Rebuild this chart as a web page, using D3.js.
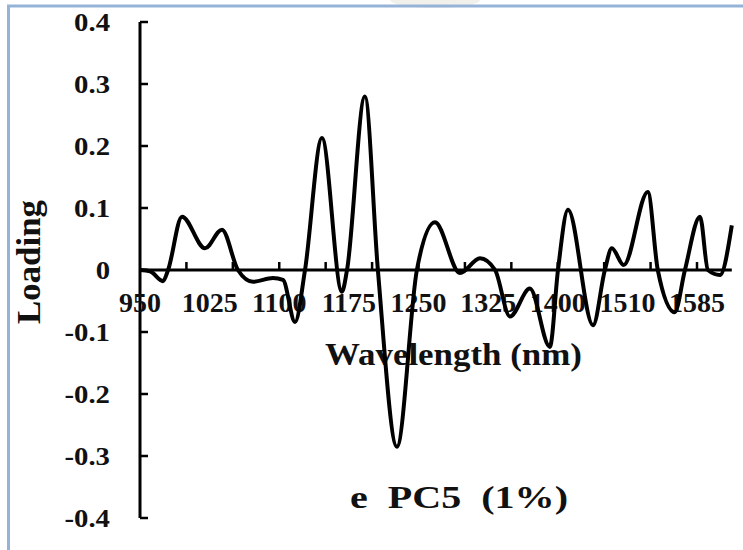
<!DOCTYPE html>
<html>
<head>
<meta charset="utf-8">
<script src="https://cdn.jsdelivr.net/npm/d3@7"></script>
<style>
  body { margin: 0; background: #fff; }
  text { font-family: "Liberation Serif", "Times New Roman", serif; font-weight: bold; fill: #111; }
</style>
</head>
<body>
<div id="chart"></div>
<script>
// Sample position along the category axis (one label every 3 positions)
const samplePos = [
  0, 0.43, 0.99, 1.21, 1.81, 2.80, 3.53, 4.22, 4.87, 5.73, 6.16, 6.68,
  7.11, 7.84, 8.70, 8.92, 9.69, 10.25, 11.07, 11.93, 12.71, 13.79, 14.65,
  15.30, 15.94, 16.80, 17.66, 18.01, 18.44, 19.52, 20.03, 20.33, 20.84,
  21.88, 22.31, 23.04, 23.48, 24.13, 24.47, 24.99, 25.5
];
// PC5 loading
const loading = [
  0, -0.002, -0.018, 0, 0.086, 0.035, 0.065, 0, -0.019, -0.013, -0.016, -0.084,
  0, 0.213, -0.035, 0, 0.28, 0, -0.285, 0, 0.077, -0.005, 0.019,
  0, -0.075, -0.03, -0.124, 0, 0.097, -0.089, 0, 0.035, 0.008,
  0.126, 0, -0.068, 0, 0.086, 0, -0.008, 0.072
];
const xLabels = ["950", "1025", "1100", "1175", "1250", "1325", "1400", "1510", "1585"];
const xLabelPos = [0, 3, 6, 9, 12, 15, 18, 21, 24];
const xTickPos = [2, 4, 6, 8, 10, 12, 14, 16, 18, 20, 22, 24];
const yTicks = [0.4, 0.3, 0.2, 0.1, 0, -0.1, -0.2, -0.3, -0.4];

const width = 743, height = 550;
const svg = d3.select("#chart").append("svg")
  .attr("width", width)
  .attr("height", height);

// page frame
svg.append("ellipse")
  .attr("cx", 435).attr("cy", 0).attr("rx", 45).attr("ry", 8)
  .attr("fill", "#f2f0ea");
svg.append("path")
  .attr("d", "M8.5,550 V6 H743")
  .attr("fill", "none")
  .attr("stroke", "#95b3d7")
  .attr("stroke-width", 3);

const x = d3.scaleLinear().domain([0, 24]).range([140, 697]);
const y = d3.scaleLinear().domain([-0.4, 0.4]).range([518, 22]);

// y axis with inward ticks
svg.append("line")
  .attr("x1", x(0)).attr("x2", x(0))
  .attr("y1", y(0.4)).attr("y2", y(-0.4))
  .attr("stroke", "#000").attr("stroke-width", 3);
svg.selectAll(".ytick").data(yTicks).enter()
  .append("line")
  .attr("x1", x(0)).attr("x2", x(0) + 8)
  .attr("y1", d => y(d)).attr("y2", d => y(d))
  .attr("stroke", "#000").attr("stroke-width", 2.5);
svg.selectAll(".ylab").data(yTicks).enter()
  .append("text")
  .attr("transform", d => `translate(110,${y(d) + 9}) scale(1.15,1)`)
  .attr("text-anchor", "end")
  .attr("font-size", 25)
  .text(d => d === 0 ? "0" : d3.format(".1f")(d).replace("−", "-"));

// x labels (drawn under the curve)
svg.selectAll(".xlab").data(xLabels).enter()
  .append("text")
  .attr("x", (d, i) => x(xLabelPos[i]))
  .attr("y", 312)
  .attr("text-anchor", "middle")
  .attr("font-size", 28)
  .text(d => d);

// x axis at zero with upward ticks
svg.append("line")
  .attr("x1", x(0)).attr("x2", x(25.5))
  .attr("y1", y(0)).attr("y2", y(0))
  .attr("stroke", "#000").attr("stroke-width", 3);
svg.selectAll(".xtick").data(xTickPos).enter()
  .append("line")
  .attr("x1", d => x(d)).attr("x2", d => x(d))
  .attr("y1", y(0)).attr("y2", y(0) - 8)
  .attr("stroke", "#000").attr("stroke-width", 2.5);

// titles
svg.append("text")
  .attr("transform", "translate(40,262) rotate(-90)")
  .attr("text-anchor", "middle")
  .attr("font-size", 33)
  .attr("textLength", 124)
  .attr("lengthAdjust", "spacingAndGlyphs")
  .text("Loading");
svg.append("text")
  .attr("x", 325).attr("y", 365)
  .attr("font-size", 31)
  .attr("textLength", 257)
  .attr("lengthAdjust", "spacingAndGlyphs")
  .text("Wavelength (nm)");
svg.append("text")
  .attr("x", 350).attr("y", 508)
  .attr("font-size", 31)
  .attr("xml:space", "preserve")
  .style("white-space", "pre")
  .attr("textLength", 218)
  .attr("lengthAdjust", "spacingAndGlyphs")
  .text("e  PC5  (1%)");

// loading curve
const line = d3.line()
  .x((d, i) => x(samplePos[i]))
  .y(d => y(d))
  .curve(d3.curveMonotoneX);
svg.append("path")
  .datum(loading)
  .attr("fill", "none")
  .attr("stroke", "#000")
  .attr("stroke-width", 4)
  .attr("stroke-linejoin", "round")
  .attr("d", line);
</script>
</body>
</html>
